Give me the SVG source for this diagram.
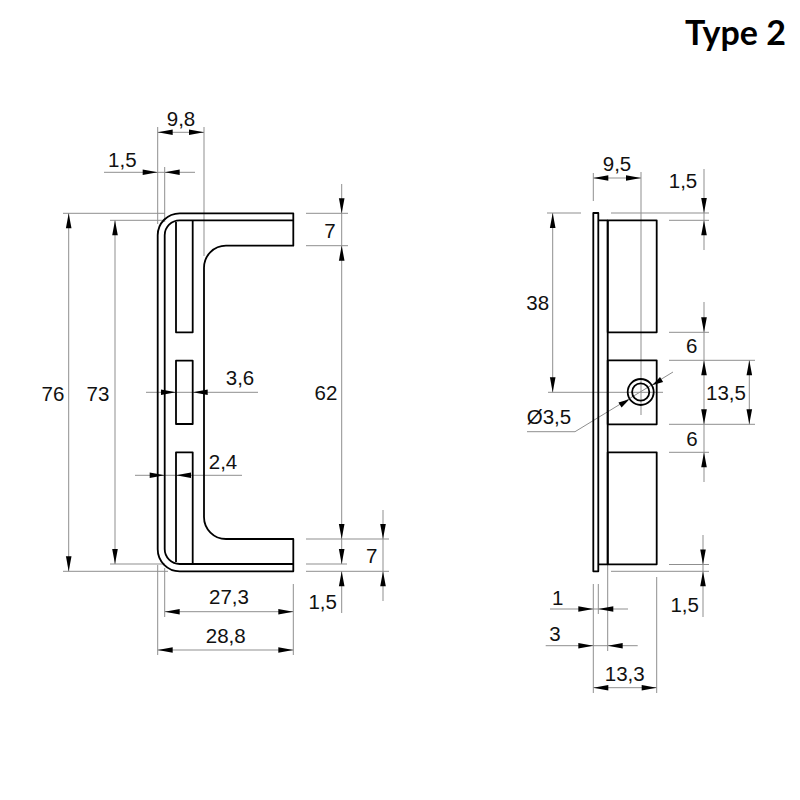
<svg xmlns="http://www.w3.org/2000/svg" xmlns:xlink="http://www.w3.org/1999/xlink" width="800" height="800" viewBox="0 0 800 800">
<style>
.o{fill:none;stroke:#000;stroke-width:1.8;stroke-linejoin:round}
.d{fill:none;stroke:#8f8f8f;stroke-width:1}
.t{font-family:"Liberation Sans",Arial,sans-serif;font-size:20.5px;fill:#111;text-anchor:middle}
.h{font-family:Lato,"Liberation Sans",sans-serif;font-size:34px;font-weight:700;fill:#000;text-anchor:middle}
</style>
<defs>
<polygon id="a" points="0,0 -15,-2.8 -15,2.8" fill="#000"/>
<polygon id="s" points="0,0 -11,-3 -11,3" fill="#000"/>
</defs>
<rect width="800" height="800" fill="#fff"/>
<g id="connectors">
<path class="d" d="M157.7 127V224M204 127V256M157.7 132.3H204M104 172.3H195M164.7 167V222M63 213.3H165M110 220.3H165M68.7 213.3V571.3M115 220.3V564M63 571.3H168M110 564H165"/>
<path class="d" d="M306 213.3H348M306 245.7H348M341.7 184V564M341.7 571.3V613M306 539H389M306 564H347M306 571.3H389M383 510V601"/>
<path class="d" d="M146 392.3H258M135 475.3H242M157.7 565V655M164.7 568V617M293.3 584V655M164.7 611.7H293.3M157.7 650H293.3"/>
<path class="d" d="M593.3 173V201M641 172V415M593.3 178H641M548 392.3H663M547 213H581M611 213H709M552.7 213V392.3M669 220.3H709M669 332.3H709M669 360.3H755M669 424.3H755M669 452.3H709M669 564.5H709M611 571.3H709"/>
<path class="d" d="M704 169V250M704 302V482M703 535V617M749.3 360.3V424.3"/>
<path class="d" d="M673 372L575 431.7H527"/>
<path class="d" d="M593.3 584V693M598.3 584V614M607.7 564V651M656.7 577V693M550 609H628M545.7 645.7H637.7M593.3 687.7H656.7"/>
<g id="arrows">
<use xlink:href="#a" transform="translate(157.7 132.3) rotate(180)"/><use xlink:href="#a" transform="translate(204 132.3)"/>
<use xlink:href="#a" transform="translate(157.7 172.3)"/><use xlink:href="#a" transform="translate(164.7 172.3) rotate(180)"/>
<use xlink:href="#a" transform="translate(68.7 213.3) rotate(-90)"/><use xlink:href="#a" transform="translate(68.7 571.3) rotate(90)"/>
<use xlink:href="#a" transform="translate(115 220.3) rotate(-90)"/><use xlink:href="#a" transform="translate(115 564) rotate(90)"/>
<use xlink:href="#a" transform="translate(341.7 213.3) rotate(90)"/><use xlink:href="#a" transform="translate(341.7 245.7) rotate(-90)"/>
<use xlink:href="#a" transform="translate(341.7 539) rotate(90)"/><use xlink:href="#a" transform="translate(341.7 564) rotate(90)"/>
<use xlink:href="#a" transform="translate(341.7 571.3) rotate(-90)"/>
<use xlink:href="#a" transform="translate(383 539) rotate(90)"/><use xlink:href="#a" transform="translate(383 571.3) rotate(-90)"/>
<use xlink:href="#a" transform="translate(176 392.3)"/><use xlink:href="#a" transform="translate(192.7 392.3) rotate(180)"/>
<use xlink:href="#a" transform="translate(164.7 475.3)"/><use xlink:href="#a" transform="translate(176 475.3) rotate(180)"/>
<use xlink:href="#a" transform="translate(164.7 611.7) rotate(180)"/><use xlink:href="#a" transform="translate(293.3 611.7)"/>
<use xlink:href="#a" transform="translate(157.7 650) rotate(180)"/><use xlink:href="#a" transform="translate(293.3 650)"/>
<use xlink:href="#a" transform="translate(593.3 178) rotate(180)"/><use xlink:href="#a" transform="translate(641 178)"/>
<use xlink:href="#a" transform="translate(552.7 213) rotate(-90)"/><use xlink:href="#a" transform="translate(552.7 392.3) rotate(90)"/>
<use xlink:href="#a" transform="translate(704 213) rotate(90)"/><use xlink:href="#a" transform="translate(704 220.3) rotate(-90)"/>
<use xlink:href="#a" transform="translate(704 332.3) rotate(90)"/><use xlink:href="#a" transform="translate(704 360.3) rotate(-90)"/>
<use xlink:href="#a" transform="translate(704 424.3) rotate(90)"/><use xlink:href="#a" transform="translate(704 452.3) rotate(-90)"/>
<use xlink:href="#a" transform="translate(749.3 360.3) rotate(-90)"/><use xlink:href="#a" transform="translate(749.3 424.3) rotate(90)"/>
<use xlink:href="#a" transform="translate(703 564.5) rotate(90)"/><use xlink:href="#a" transform="translate(703 571.3) rotate(-90)"/>
<use xlink:href="#a" transform="translate(593.3 609)"/><use xlink:href="#a" transform="translate(598.3 609) rotate(180)"/>
<use xlink:href="#a" transform="translate(593.3 645.7)"/><use xlink:href="#a" transform="translate(607.7 645.7) rotate(180)"/>
<use xlink:href="#a" transform="translate(593.3 687.7) rotate(180)"/><use xlink:href="#a" transform="translate(656.7 687.7)"/>
<use xlink:href="#s" transform="translate(629.4 399.2) rotate(-31.5)"/><use xlink:href="#s" transform="translate(652.2 385.2) rotate(148.5)"/>
</g>
</g>
<g id="side-view">
<path class="o" d="M293.3 213.3H179.7A22 22 0 0 0 157.7 235.3V549.3A22 22 0 0 0 179.7 571.3H293.3V539H226A22 22 0 0 1 204 517V267.7A22 22 0 0 1 226 245.7H293.3V213.3Z"/>
<path class="o" d="M293.3 220.3H179.7A15 15 0 0 0 164.7 235.3V549A15 15 0 0 0 179.7 564H293.3"/>
<path class="o" d="M176 222V332.3H192.7V220.3"/>
<rect class="o" x="176" y="360.7" width="16.7" height="63.3"/>
<path class="o" d="M176 562V452.3H192.7V564"/>
</g>
<g id="front-view">
<rect class="o" x="593.3" y="213" width="5" height="358.3"/>
<path class="o" d="M598.3 220.3H607.7M598.3 564.3H607.7M607.7 220.3V564.3"/>
<rect class="o" x="607.7" y="220.3" width="49" height="112"/>
<rect class="o" x="607.7" y="360.3" width="49" height="64"/>
<rect class="o" x="607.7" y="452.3" width="49" height="112"/>
<circle class="o" cx="640.7" cy="392" r="13"/>
<circle class="o" cx="640.7" cy="392" r="8.6"/>
</g>
<g id="labels">
<text class="h" x="735.5" y="45">Type 2</text>
<text class="t" x="181" y="126">9,8</text>
<text class="t" x="122.3" y="166.7">1,5</text>
<text class="t" x="330" y="238">7</text>
<text class="t" x="53" y="401">76</text>
<text class="t" x="98" y="401">73</text>
<text class="t" x="326" y="400">62</text>
<text class="t" x="240" y="385">3,6</text>
<text class="t" x="223" y="468.7">2,4</text>
<text class="t" x="371.7" y="563">7</text>
<text class="t" x="229" y="604">27,3</text>
<text class="t" x="322.7" y="609">1,5</text>
<text class="t" x="225.7" y="643.3">28,8</text>
<text class="t" x="617" y="171">9,5</text>
<text class="t" x="683" y="188.3">1,5</text>
<text class="t" x="537.7" y="310">38</text>
<text class="t" x="691.7" y="353.3">6</text>
<text class="t" x="726" y="400">13,5</text>
<text class="t" x="549" y="424">Ø3,5</text>
<text class="t" x="692" y="446">6</text>
<text class="t" x="684.7" y="611.7">1,5</text>
<text class="t" x="557.7" y="605.3">1</text>
<text class="t" x="555" y="641">3</text>
<text class="t" x="624.7" y="680.7">13,3</text>
</g>
</svg>
